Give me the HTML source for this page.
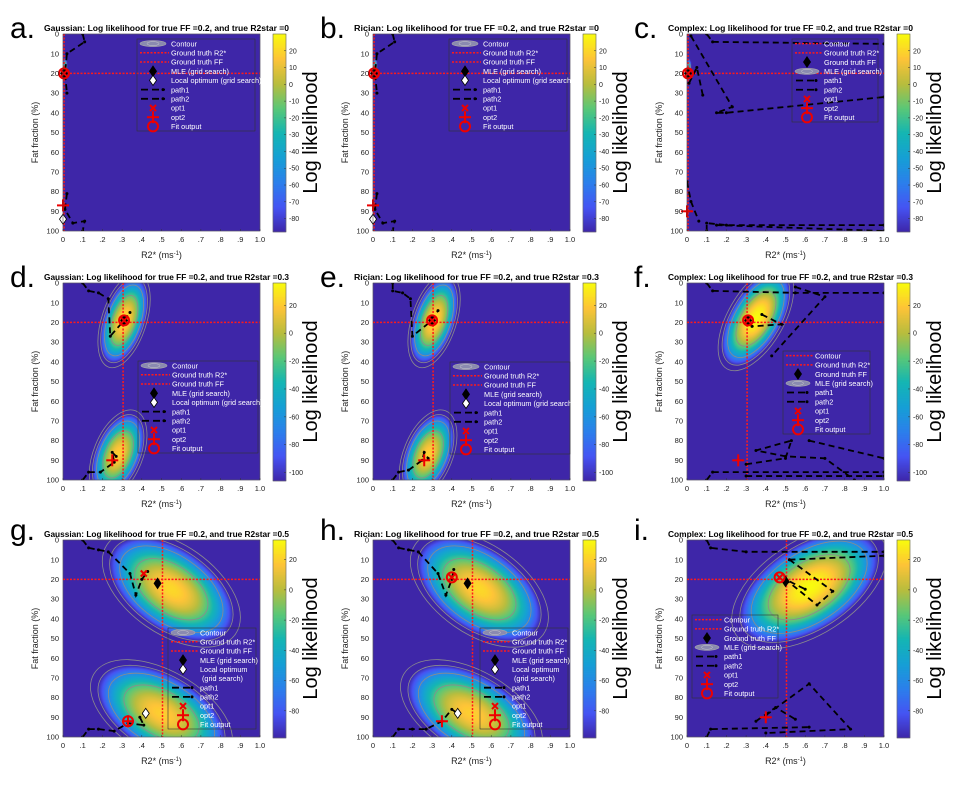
<!DOCTYPE html>
<html><head><meta charset="utf-8">
<style>
html,body{margin:0;padding:0;background:#fff;}
#wrap{position:relative;width:960px;height:785px;overflow:hidden;}
canvas,svg{position:absolute;left:0;top:0;}
text{font-family:"Liberation Sans",Arial,sans-serif;}
</style></head>
<body>
<div id="wrap">
<canvas id="cv" width="960" height="785"></canvas>
<svg id="sv" width="960" height="785" xmlns="http://www.w3.org/2000/svg"></svg>
</div>
<script>
// ---------- data ----------
const letters = ["a","b","c","d","e","f","g","h","i"];
const models = ["Gaussian","Rician","Complex","Gaussian","Rician","Complex","Gaussian","Rician","Complex"];
const trueR2 = [0,0,0,0.3,0.3,0.3,0.5,0.5,0.5];
const trueFF = [20,20,20,20,20,20,20,20,20];
const xTicks = [0,0.1,0.2,0.3,0.4,0.5,0.6,0.7,0.8,0.9,1.0];
const xTickLabels = ["0",".1",".2",".3",".4",".5",".6",".7",".8",".9","1.0"];
const yTicks = [0,10,20,30,40,50,60,70,80,90,100];
const cbRange = [[-88,30],[-88,30],[-88,30],[-106,36],[-106,36],[-106,36],[-98,33],[-98,33],[-98,33]];
const cbTicks = [
 [20,10,0,-10,-20,-30,-40,-50,-60,-70,-80],[20,10,0,-10,-20,-30,-40,-50,-60,-70,-80],[20,10,0,-10,-20,-30,-40,-50,-60,-70,-80],
 [20,0,-20,-40,-60,-80,-100],[20,0,-20,-40,-60,-80,-100],[20,0,-20,-40,-60,-80,-100],
 [20,0,-20,-40,-60,-80],[20,0,-20,-40,-60,-80],[20,0,-20,-40,-60,-80]];
// blobs: [r2 centre, ff centre, semi-major(px), semi-minor(px), angle(deg), peak (0..1)]
const blobs = [
 [[0.01,17,10,2.5,90,0.55]],
 [[0.01,17,10,2.5,90,0.55]],
 [[0.01,18,11,2.5,90,0.55]],
 [[0.31,19,44,20,108,0.93],[0.28,87,42,22,112,0.9]],
 [[0.31,19,44,20,108,0.93],[0.28,87,42,22,112,0.9]],
 [[0.35,18,52,25,120,1.0]],
 [[0.55,25,70,40,35,0.92],[0.5,88,70,38,30,0.9]],
 [[0.54,25,70,40,35,0.92],[0.5,88,70,38,30,0.9]],
 [[0.62,24,78,42,-33,1.0]]];
// paths: arrays of polylines [[r2,ff],...]
const paths = [
 [[[0.1,0],[0.11,4],[0.02,10],[0.01,20],[0.02,30]],[[0.02,81],[0.01,89],[0.05,96],[0.11,95],[0.1,100]]],
 [[[0.1,0],[0.11,4],[0.02,10],[0.01,20],[0.02,30]],[[0.02,81],[0.01,89],[0.05,96],[0.11,95],[0.1,100]]],
 [[[0.1,0],[0.13,4],[1,5]],[[0.02,1],[0.23,37],[0.15,40],[0.2,40],[1,32]],[[0.01,25],[0.05,17],[0.08,31]],[[0,75],[0.02,85],[0.06,95]],[[0.1,100],[0.1,96],[0.2,97],[1,97]],[[0.15,97],[1,100]]],
 [[[0.1,0],[0.13,4],[0.18,5],[0.23,8],[0.24,27],[0.31,19],[0.34,15]],[[0.1,100],[0.13,96],[0.19,96],[0.26,91],[0.25,86],[0.27,88]]],
 [[[0.1,0],[0.1,4],[0.15,5],[0.19,8],[0.2,27],[0.3,19],[0.33,14]],[[0.1,100],[0.13,96],[0.18,95],[0.25,90],[0.26,86],[0.28,89]]],
 [[[0.1,0],[0.13,4],[0.55,5],[1,5]],[[0.55,2],[0.7,7],[0.43,37]],[[0.38,16],[0.48,21],[0.33,22]],[[0.1,100],[0.13,96],[1,96]],[[0.3,92],[0.5,89],[0.53,80],[0.35,85],[0.5,88],[0.7,89],[0.85,100]],[[0.62,80],[1,89]],[[0.3,98],[1,98]]],
 [[[0.1,0],[0.13,4],[0.18,5],[0.23,6],[0.34,17],[0.37,28],[0.4,20],[0.43,16]],[[0.1,100],[0.13,96],[0.18,96],[0.26,97],[0.33,93],[0.41,94],[0.39,90],[0.42,87]]],
 [[[0.1,0],[0.13,4],[0.18,5],[0.23,6],[0.33,17],[0.37,28],[0.4,20],[0.41,15]],[[0.1,100],[0.13,96],[0.2,96],[0.27,96],[0.35,92],[0.4,86],[0.43,88]]],
 [[[0.1,0],[0.12,4],[0.3,6],[1,6]],[[0.52,10],[1,8]],[[0.52,10],[0.74,26],[0.66,33],[0.5,20],[0.6,25]],[[0.1,100],[0.12,96],[0.62,95]],[[0.4,89],[0.62,73],[0.83,96],[0.4,98]],[[0.35,92],[0.45,85],[0.55,91]]]];
// markers: [type, r2, ff]
const markers = [
 [["mle",0.005,20],["x",0.005,20],["o",0.005,20],["+",0,87],["wd",0,94]],
 [["mle",0.005,20],["x",0.005,20],["o",0.005,20],["+",0,87],["wd",0,94]],
 [["mle",0.005,20],["x",0.005,20],["o",0.005,20],["+",0,90]],
 [["mle",0.31,19],["x",0.31,19],["o",0.31,19],["+",0.25,90]],
 [["mle",0.3,19],["x",0.3,19],["o",0.3,19],["+",0.26,90]],
 [["mle",0.31,19],["x",0.31,19],["o",0.31,19],["+",0.26,90]],
 [["x",0.41,17],["mle",0.48,22],["wd",0.42,88],["o",0.33,92],["+",0.33,92]],
 [["x",0.4,19],["o",0.4,19],["mle",0.48,22],["wd",0.43,88],["+",0.35,92]],
 [["mle",0.5,21],["o",0.47,19],["x",0.47,19],["+",0.4,90]]];
// legend: [x, y, w, h, variant]
const legends = [[137,39,118,92,"A"],[449,39,118,92,"A"],[792,39,86,83,"C"],
 [138,361,120,92,"A"],[450,362,120,92,"A"],[783,351,87,83,"C"],
 [168,628,88,101,"G"],[480,628,88,101,"G"],[692,615,86,83,"C"]];

// ---------- layout ----------
const cols=[63,373,687], rows=[34,283,540], PW=197, PH=197;
function px(i){return cols[i%3];}
function py(i){return rows[Math.floor(i/3)];}
function sx(i,v){return px(i)+v*PW;}
function sy(i,v){return py(i)+v/100*PH;}

const parula=[[0,62,38,168],[0.125,70,84,244],[0.25,44,128,236],[0.375,22,160,214],[0.5,20,182,180],[0.625,90,200,120],[0.75,185,189,62],[0.875,254,196,56],[1,249,251,14]];
function cmap(t){t=Math.max(0,Math.min(1,t));for(let k=1;k<parula.length;k++){if(t<=parula[k][0]){const a=parula[k-1],b=parula[k],f=(t-a[0])/(b[0]-a[0]);return [a[1]+f*(b[1]-a[1]),a[2]+f*(b[2]-a[2]),a[3]+f*(b[3]-a[3])];}}return [249,251,14];}

const cv=document.getElementById('cv'),ctx=cv.getContext('2d');
const NS="http://www.w3.org/2000/svg",sv=document.getElementById('sv');
function el(tag,attrs,parent){const e=document.createElementNS(NS,tag);for(const k in attrs)e.setAttribute(k,attrs[k]);(parent||sv).appendChild(e);return e;}

function blobR(b,i,X,Y){const cx=sx(i,b[0]),cy=sy(i,b[1]);const a=b[4]*Math.PI/180;const dx=X-cx,dy=Y-cy;const u=dx*Math.cos(a)+dy*Math.sin(a),v=-dx*Math.sin(a)+dy*Math.cos(a);return (u*u)/(b[2]*b[2])+(v*v)/(b[3]*b[3]);}

for(let i=0;i<9;i++){
  const img=ctx.createImageData(PW,PH);
  for(let y=0;y<PH;y++)for(let x=0;x<PW;x++){
    let t=0;for(const b of blobs[i]){const r2=blobR(b,i,px(i)+x+0.5,py(i)+y+0.5);t=Math.max(t,b[5]*(1-r2));}
    const c=cmap(t);const o=(y*PW+x)*4;img.data[o]=c[0];img.data[o+1]=c[1];img.data[o+2]=c[2];img.data[o+3]=255;}
  ctx.putImageData(img,px(i),py(i));
  const cbx=px(i)+210,cby=py(i),cbh=PH+1;
  for(let y=0;y<cbh;y++){const c=cmap(1-y/cbh);ctx.fillStyle=`rgb(${c[0]|0},${c[1]|0},${c[2]|0})`;ctx.fillRect(cbx,cby+y,13,1);}
}

for(let i=0;i<9;i++){
  const g=el('g',{});
  
  
  const L=px(i),T=py(i);
  const cp=el('clipPath',{id:'cp'+i},g);el('rect',{x:L,y:T,width:PW,height:PH},cp);
  const inner=el('g',{'clip-path':'url(#cp'+i+')'},g);
  for(const b of blobs[i]){for(const lv of [0.35,0.7,1.0,1.25]){
    if(b[5]<0.7&&lv>0.35)continue;
    const c=el('ellipse',{cx:sx(i,b[0]),cy:sy(i,b[1]),rx:b[2]*Math.sqrt(lv),ry:b[3]*Math.sqrt(lv),transform:`rotate(${b[4]} ${sx(i,b[0])} ${sy(i,b[1])})`,fill:'none',stroke:'#8c8c8c','stroke-width':0.8},inner);
    
    }}
  const vl=el('line',{x1:sx(i,trueR2[i])+1,x2:sx(i,trueR2[i])+1,y1:T,y2:T+PH,stroke:'#ff1a1a','stroke-width':1.5,'stroke-dasharray':'2,1.5'},inner);
  
  
  const hl=el('line',{x1:L,x2:L+PW,y1:sy(i,trueFF[i]),y2:sy(i,trueFF[i]),stroke:'#ff1a1a','stroke-width':1.5,'stroke-dasharray':'2,1.5'},inner);
  
  
  for(const p of paths[i]){
    const pts=p.map(q=>sx(i,q[0])+','+sy(i,q[1])).join(' ');
    const pl=el('polyline',{points:pts,fill:'none',stroke:'#000','stroke-width':1.8,'stroke-dasharray':'6,4'},inner);
    
    
    for(const q of p){const d=el('circle',{cx:sx(i,q[0]),cy:sy(i,q[1]),r:1.5,fill:'#000'},inner);
      
      }
  }
  for(const m of markers[i]){const mk=drawMarker(m[0],sx(i,m[1]),sy(i,m[2]),g);
    
    }
  el('rect',{x:L,y:T,width:PW,height:PH,fill:'none',stroke:'#333','stroke-width':0.5},g);
  xTicks.forEach((v,k)=>{el('line',{x1:sx(i,v),x2:sx(i,v),y1:T+PH,y2:T+PH-2,stroke:'#333','stroke-width':0.5},g);
    const t=el('text',{x:sx(i,v),y:T+PH+11,'font-size':7.5,'text-anchor':'middle',fill:'#222'},g);t.textContent=xTickLabels[k];});
  yTicks.forEach(v=>{const t=el('text',{x:L-4,y:sy(i,v)+2.6,'font-size':7.5,'text-anchor':'end',fill:'#222'},g);t.textContent=v;});
  const xl=el('text',{x:L+PW/2,y:T+PH+27,'font-size':9,'text-anchor':'middle',fill:'#222'},g);
  
  
  xl.innerHTML='R2* (ms<tspan dy="-3" font-size="6">-1</tspan><tspan dy="3">)</tspan>';
  const yl=el('text',{x:0,y:0,'font-size':9,'text-anchor':'middle',fill:'#222',transform:`translate(${L-25},${T+PH/2}) rotate(-90)`},g);
  
  
  yl.textContent='Fat fraction (%)';
  const tt=el('text',{x:L+PW/2+5,y:T-3,'font-size':8,'font-weight':'bold','text-anchor':'middle',fill:'#000',textLength:245,lengthAdjust:'spacingAndGlyphs'},g);
  
  
  tt.textContent=`${models[i]}: Log likelihood for true FF =0.2, and true R2star =${trueR2[i]}`;
  const lt=el('text',{x:L-53,y:T+(Math.floor(i/3)==2?0:4),'font-size':30,fill:'#000'},g);
  
  
  lt.textContent=letters[i]+'.';
  const cbx=L+210,rg=cbRange[i];
  el('rect',{x:cbx,y:T,width:13,height:PH+1,fill:'none',stroke:'#444','stroke-width':0.5},g);
  cbTicks[i].forEach(v=>{const y=T+(rg[1]-v)/(rg[1]-rg[0])*(PH+1);
    el('line',{x1:cbx+11,x2:cbx+13,y1:y,y2:y,stroke:'#333','stroke-width':0.5},g);
    const t=el('text',{x:cbx+16,y:y+2.5,'font-size':7,fill:'#222'},g);t.textContent=v;});
  const cl=el('text',{x:0,y:0,'font-size':20,'text-anchor':'middle',fill:'#000',transform:`translate(${cbx+44},${T+PH/2}) rotate(-90)`},g);
  
  
  cl.textContent='Log likelihood';
  drawLegend(legends[i],g);
}

function drawMarker(type,x,y,p){
  const g=el('g',{},p);
  if(type==='mle')el('polygon',{points:`${x},${y-6} ${x+4},${y} ${x},${y+6} ${x-4},${y}`,fill:'#000'},g);
  else if(type==='wd')el('polygon',{points:`${x},${y-5} ${x+3.5},${y} ${x},${y+5} ${x-3.5},${y}`,fill:'#fff',stroke:'#000','stroke-width':0.8},g);
  else if(type==='x'){el('line',{x1:x-3,y1:y-3,x2:x+3,y2:y+3,stroke:'#e00','stroke-width':2},g);el('line',{x1:x-3,y1:y+3,x2:x+3,y2:y-3,stroke:'#e00','stroke-width':2},g);}
  else if(type==='+'){el('line',{x1:x-6,y1:y,x2:x+6,y2:y,stroke:'#e00','stroke-width':2},g);el('line',{x1:x,y1:y-6,x2:x,y2:y+6,stroke:'#e00','stroke-width':2},g);}
  else if(type==='o')el('circle',{cx:x,cy:y,r:5,fill:'none',stroke:'#e00','stroke-width':2},g);
  return g;
}
function drawLegend(lg,p){
  const [x,y,w,h,v]=lg;
  const g=el('g',{},p);
  
  
  el('rect',{x:x,y:y,width:w,height:h,fill:'none',stroke:'#333','stroke-width':0.6},g);
  let items;
  if(v==='C')items=[["red","Contour"],["red","Ground truth R2*"],["mle","Ground truth FF"],["ell","MLE (grid search)"],["dash","path1"],["dash","path2"],["x","opt1"],["+","opt2"],["o","Fit output"]];
  else if(v==='G')items=[["ell","Contour"],["red","Ground truth R2*"],["red","Ground truth FF"],["mle","MLE (grid search)"],["wd","Local optimum"],["","(grid search)"],["dash","path1"],["dash","path2"],["x","opt1"],["+","opt2"],["o","Fit output"]];
  else items=[["ell","Contour"],["red","Ground truth R2*"],["red","Ground truth FF"],["mle","MLE (grid search)"],["wd","Local optimum (grid search)"],["dash","path1"],["dash","path2"],["x","opt1"],["+","opt2"],["o","Fit output"]];
  const rh=h/items.length;
  const sw=(v==='A')?24:22;
  items.forEach((it,k)=>{
    const cy=y+rh*(k+0.5),cx=x+4+sw/2;
    const s=it[0];
    if(s==='red')el('line',{x1:x+3,x2:x+4+sw+4,y1:cy,y2:cy,stroke:'#ff1a1a','stroke-width':1.5,'stroke-dasharray':'2,1.5'},g);
    else if(s==='dash'){el('line',{x1:x+4,x2:x+4+sw,y1:cy,y2:cy,stroke:'#000','stroke-width':1.8,'stroke-dasharray':'7,4'},g);el('circle',{cx:x+4+sw-2,cy:cy,r:1.5,fill:'#000'},g);}
    else if(s==='ell'){el('ellipse',{cx:cx,cy:cy,rx:sw/2+1,ry:3,fill:'#8a8ab0',stroke:'#aaa','stroke-width':0.6},g);el('ellipse',{cx:cx,cy:cy,rx:sw/4,ry:2,fill:'none',stroke:'#ccc','stroke-width':0.5},g);}
    else if(s)drawMarker(s,cx,cy,g);
    const t=el('text',{x:x+4+sw+6+(s===''?2:0),y:cy+2.7,'font-size':7.3,fill:'#fff'},g);t.textContent=it[1];
  });
}
</script>
</body></html>
